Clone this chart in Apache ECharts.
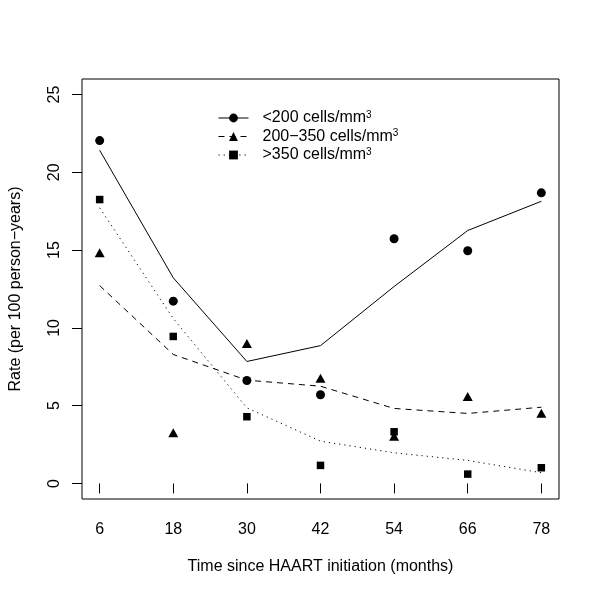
<!DOCTYPE html>
<html>
<head>
<meta charset="utf-8">
<script src="https://cdn.jsdelivr.net/npm/echarts@6/dist/echarts.min.js"></script>
<style>
html,body{margin:0;padding:0;background:#fff;}
#chart{width:600px;height:599px;}
</style>
</head>
<body>
<div id="chart"></div>
<script>
// ---- data ----
var months = [6, 18, 30, 42, 54, 66, 78];
var groupNames = ['<200 cells/mm3', '200\u2212350 cells/mm3', '>350 cells/mm3'];
var obsLow  = [22.04, 11.72, 6.62, 5.70, 15.73, 14.96, 18.68];
var fitLow  = [21.42, 13.22, 7.84, 8.86, 12.66, 16.26, 18.14];
var obsMid  = [14.83, 3.26, 9.00, 6.77, 3.04, 5.59, 4.52];
var fitMid  = [12.72, 8.29, 6.64, 6.25, 4.82, 4.50, 4.90];
var obsHigh = [18.25, 9.45, 4.29, 1.16, 3.32, 0.60, 1.01];
var fitHigh = [17.72, 10.60, 4.86, 2.72, 1.97, 1.48, 0.69];
var xTicks = [6, 18, 30, 42, 54, 66, 78];
var yTicks = [0, 5, 10, 15, 20, 25];
var xTitle = 'Time since HAART initiation (months)';
var yTitle = 'Rate (per 100 person\u2212years)';

// ---- build ----
function pairs(xs, ys) { return xs.map(function (x, i) { return [x, ys[i]]; }); }
// R-style 4% axis extension
var xr = xTicks[xTicks.length - 1] - xTicks[0];
var xMin = xTicks[0] - 0.04 * xr, xMax = xTicks[xTicks.length - 1] + 0.04 * xr;
var yr = yTicks[yTicks.length - 1] - yTicks[0];
var yMin = yTicks[0] - 0.04 * yr, yMax = yTicks[yTicks.length - 1] + 0.04 * yr;

var FONT = '"Liberation Sans", Arial, Helvetica, sans-serif';
var styles = [
  { symbol: 'circle', size: 9, line: 'solid' },
  { symbol: 'triangle', size: [10, 9], line: [6, 5] },
  { symbol: 'rect', size: 7.5, line: [1.2, 4] }
];
var obs = [obsLow, obsMid, obsHigh];
var fit = [fitLow, fitMid, fitHigh];

var series = [];
for (var g = 0; g < 3; g++) {
  series.push({
    name: groupNames[g], type: 'line', data: pairs(months, fit[g]),
    symbol: styles[g].symbol, showSymbol: false, symbolSize: styles[g].size,
    itemStyle: { color: '#000', opacity: 1 },
    lineStyle: { color: '#000', width: 1, type: styles[g].line },
    silent: true, z: 2
  });
  series.push({
    name: groupNames[g] + ' obs', type: 'scatter', data: pairs(months, obs[g]),
    symbol: styles[g].symbol, symbolSize: styles[g].size,
    itemStyle: { color: '#000', opacity: 1 }, silent: true, z: 3
  });
}

var chart = echarts.init(document.getElementById('chart'), null, { renderer: 'canvas' });
chart.setOption({
  animation: false,
  backgroundColor: '#fff',
  textStyle: { fontFamily: FONT, color: '#000' },
  grid: { left: 80, right: 41, top: 79, bottom: 100, show: true, borderColor: '#000', borderWidth: 1, backgroundColor: 'transparent' },
  legend: {
    data: groupNames, orient: 'vertical', left: 218, top: 110, padding: 0,
    itemWidth: 30, itemHeight: 11, itemGap: 2.5, selectedMode: false,
    lineStyle: { width: 1 },
    textStyle: { fontFamily: FONT, fontSize: 16, color: '#000', lineHeight: 16, padding: [0, 0, 0, 9],
      rich: { sup: { fontFamily: FONT, fontSize: 10, color: '#000', verticalAlign: 'top', lineHeight: 2 } } },
    formatter: function (n) { return n.replace(/mm3$/, 'mm{sup|3}'); }
  },
  xAxis: {
    type: 'value', min: xMin, max: xMax,
    name: xTitle, nameLocation: 'middle', nameGap: 60,
    nameTextStyle: { fontFamily: FONT, fontSize: 16, color: '#000' },
    axisLine: { show: false },
    axisTick: { show: true, length: 10, inside: false, lineStyle: { color: '#000', width: 1 }, customValues: xTicks },
    axisLabel: { fontFamily: FONT, fontSize: 16, color: '#000', margin: 23, customValues: xTicks },
    splitLine: { show: false }
  },
  yAxis: {
    type: 'value', min: yMin, max: yMax,
    name: yTitle, nameLocation: 'middle', nameGap: 58, nameRotate: 90,
    nameTextStyle: { fontFamily: FONT, fontSize: 16, color: '#000' },
    axisLine: { show: false },
    axisTick: { show: true, length: 10, inside: false, lineStyle: { color: '#000', width: 1 }, customValues: yTicks },
    axisLabel: { fontFamily: FONT, fontSize: 16, color: '#000', margin: 19, rotate: 90, customValues: yTicks },
    splitLine: { show: false }
  },
  series: series
});
</script>
</body>
</html>
